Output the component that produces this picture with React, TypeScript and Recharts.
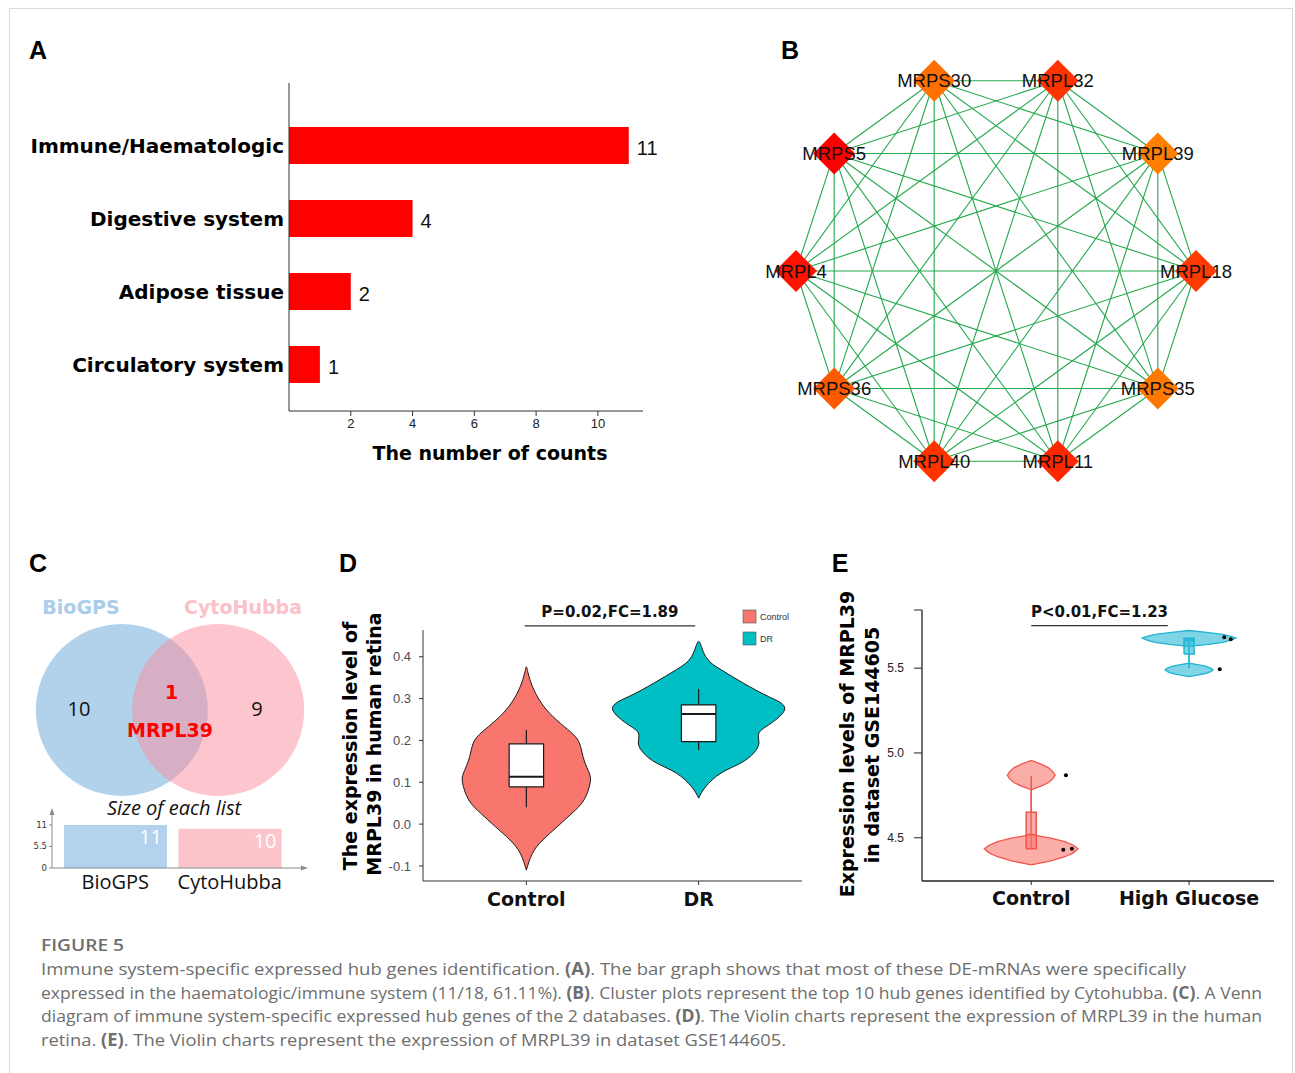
import React from "react";
import {
  BarChart,
  Bar,
  XAxis,
  YAxis,
  LabelList,
  ScatterChart,
  Scatter,
  ReferenceLine,
  ComposedChart,
  Cell,
} from "recharts";

const FONT_BOLD = "'DejaVu Sans', Verdana, sans-serif";
const FONT_ARIAL = "'Liberation Sans', Arial, sans-serif";
const FONT_OPEN = "'Open Sans', sans-serif";
const FONT_NARROW = "'Liberation Sans Narrow', 'Liberation Sans', sans-serif";

// ---- A: tissue specific expression
const tissueNames = ["Immune/Haematologic", "Digestive system", "Adipose tissue", "Circulatory system"];
const tissueCounts = [11, 4, 2, 1];
const countTicks = [2, 4, 6, 8, 10];

// ---- B: cytoHubba top 10 (circle layout order, counter-clockwise from the right)
const hubGenes = ["MRPL18", "MRPL39", "MRPL32", "MRPS30", "MRPS5", "MRPL4", "MRPS36", "MRPL40", "MRPL11", "MRPS35"];
const hubColors = ["#ff3a00", "#ff7f00", "#ff3300", "#ff7000", "#ff0000", "#ff1200", "#ff5a00", "#ff3300", "#ff2600", "#ff7800"];
const hubLinks: Record<string, string[]> = {
  MRPL18: ["MRPL39", "MRPL32", "MRPS30", "MRPS5", "MRPL4", "MRPS36", "MRPL40", "MRPL11", "MRPS35"],
  MRPL39: ["MRPL32", "MRPS30", "MRPS5", "MRPL4", "MRPS36", "MRPL40", "MRPL11", "MRPS35"],
  MRPL32: ["MRPS30", "MRPS5", "MRPL4", "MRPS36", "MRPL40", "MRPL11", "MRPS35"],
  MRPS30: ["MRPS5", "MRPL4", "MRPS36", "MRPL40", "MRPL11", "MRPS35"],
  MRPS5: ["MRPL4", "MRPS36", "MRPL40", "MRPL11", "MRPS35"],
  MRPL4: ["MRPS36", "MRPL40", "MRPL11", "MRPS35"],
  MRPS36: ["MRPL40", "MRPL11", "MRPS35"],
  MRPL40: ["MRPL11", "MRPS35"],
  MRPL11: ["MRPS35"],
};

// ---- C: venn
const vennSets = ["BioGPS", "CytoHubba"];
const vennSizes = [11, 10];
const vennShared = ["MRPL39"];
const vennCircleColors = ["#65a5d9", "#fb8b9b"];
const vennBarColors = ["#b2d2ed", "#fdc4cc"];
const sizeTicks = [0, 5.5, 11];

// ---- D: human retina
const retinaGroups = ["Control", "DR"];
const retinaColors = ["#F8766D", "#00BFC4"];
const controlRetinaLevels = [-0.11, -0.07, -0.038, -0.006, 0.026, 0.058, 0.098, 0.122, 0.153, 0.185, 0.209, 0.233, 0.265, 0.297, 0.329, 0.361, 0.376];
const controlRetinaDensity = [0, 0.07, 0.19, 0.36, 0.53, 0.67, 0.74, 0.73, 0.67, 0.63, 0.57, 0.44, 0.27, 0.15, 0.07, 0.02, 0];
const drRetinaLevels = [0.062, 0.089, 0.122, 0.146, 0.17, 0.194, 0.218, 0.241, 0.277, 0.305, 0.337, 0.369, 0.401, 0.437];
const drRetinaDensity = [0, 0.08, 0.26, 0.49, 0.64, 0.7, 0.7, 0.84, 1, 0.81, 0.52, 0.26, 0.08, 0];
const retinaLow = [0.04, 0.177];
const retinaQ1 = [0.089, 0.197];
const retinaMedian = [0.113, 0.263];
const retinaQ3 = [0.192, 0.285];
const retinaHigh = [0.225, 0.323];
const retinaTicks = [-0.1, 0, 0.1, 0.2, 0.3, 0.4];

// ---- E: GSE144605
const gseGroups = ["Control", "High Glucose"];
const gseFill = ["#F8766D", "#29b9d6"];
const gseStroke = ["#f0564c", "#22b4d2"];
const controlGseLevels = [4.34, 4.364, 4.388, 4.411, 4.435, 4.456, 4.477, 4.498, 4.519, 4.783, 4.804, 4.826, 4.847, 4.868, 4.89, 4.912, 4.934, 4.956];
const controlGseDensity = [0, 0.42, 0.72, 0.9, 1, 0.9, 0.72, 0.42, 0, 0, 0.21, 0.37, 0.46, 0.51, 0.46, 0.37, 0.21, 0];
const hgGseLevels = [5.45, 5.46, 5.47, 5.48, 5.49, 5.5, 5.51, 5.52, 5.53, 5.628, 5.64, 5.652, 5.665, 5.677, 5.688, 5.699, 5.71, 5.722];
const hgGseDensity = [0, 0.21, 0.37, 0.46, 0.51, 0.46, 0.37, 0.21, 0, 0, 0.42, 0.72, 0.9, 1, 0.9, 0.72, 0.42, 0];
const gseLow = [4.435, 5.5];
const gseQ1 = [4.435, 5.584];
const gseMedian = [4.519, 5.665];
const gseQ3 = [4.651, 5.677];
const gseHigh = [4.862, 5.677];
const controlGsePoints = [4.868, 4.429, 4.435];
const controlGseJitter = [0.22, 0.203, 0.258];
const hgGsePoints = [5.683, 5.671, 5.494];
const hgGseJitter = [0.223, 0.264, 0.194];
const gseTicks = [4.5, 5, 5.5, 5.843];

type Pt = { x: number; y: number };

const noDot = () => <g />;

function violin(center: number, levels: number[], dens: number[], half: number): Pt[] {
  const right = levels.map((v, i) => ({ x: center + dens[i] * half, y: v }));
  const left = levels
    .slice(0, -1)
    .map((v, i) => ({ x: center - dens[i] * half, y: v }))
    .reverse();
  return [...right, ...left];
}

function boxRect(c: number, half: number, lo: number, hi: number): Pt[] {
  return [
    { x: c - half, y: lo },
    { x: c + half, y: lo },
    { x: c + half, y: hi },
    { x: c - half, y: hi },
    { x: c - half, y: lo },
  ];
}

// ----------------------------------------------------------------- A
const tissueData = tissueNames.map((name, i) => ({ name, count: tissueCounts[i] }));

function PanelA() {
  return (
    <div style={{ position: "absolute", left: 0, top: 70 }}>
      <BarChart width={680} height={380} data={tissueData} layout="vertical" margin={{ top: 13, right: 37, bottom: 0, left: 0 }}>
        <XAxis
          type="number"
          domain={[0, 11.46]}
          ticks={countTicks}
          allowDataOverflow
          height={39}
          tickSize={5}
          tickMargin={3}
          interval={0}
          axisLine={{ stroke: "#333" }}
          tickLine={{ stroke: "#333" }}
          tick={{ fontSize: 13, fill: "#222", fontFamily: FONT_ARIAL }}
        />
        <YAxis
          type="category"
          dataKey="name"
          width={289}
          padding={{ top: 26, bottom: 10 }}
          tickLine={false}
          tickSize={3}
          tickMargin={2}
          interval={0}
          axisLine={{ stroke: "#333" }}
          tick={{ fontSize: 20, fontWeight: "bold", fill: "#000", fontFamily: FONT_BOLD }}
        />
        <Bar dataKey="count" fill="#ff0000" barSize={37} isAnimationActive={false}>
          <LabelList dataKey="count" position="right" offset={8} fill="#111" fontSize={20} fontFamily={FONT_ARIAL} dy={2} />
        </Bar>
      </BarChart>
    </div>
  );
}

// ----------------------------------------------------------------- B
const hubNodes = hubGenes.map((name, i) => {
  const a = (i * 2 * Math.PI) / hubGenes.length;
  return { name, x: Math.cos(a), y: Math.sin(a), color: hubColors[i] };
});
const nodeByName: Record<string, { x: number; y: number }> = Object.fromEntries(hubNodes.map((n) => [n.name, n]));
const hubEdges = Object.entries(hubLinks).flatMap(([a, list]) => list.map((b) => [a, b]));

function Diamond(props: any) {
  const { cx, cy, payload } = props;
  const h = 21;
  return <path d={`M${cx},${cy - h}L${cx + h},${cy}L${cx},${cy + h}L${cx - h},${cy}Z`} fill={payload.color} />;
}

function PanelB() {
  return (
    <div style={{ position: "absolute", left: 736, top: 31 }}>
      <ScatterChart width={520} height={480} margin={{ top: 0, right: 0, bottom: 0, left: 0 }}>
        <XAxis type="number" dataKey="x" domain={[-1.3, 1.3]} hide />
        <YAxis type="number" dataKey="y" domain={[-1.2, 1.2]} hide />
        {hubEdges.map(([a, b]) => (
          <ReferenceLine
            key={a + b}
            segment={[
              { x: nodeByName[a].x, y: nodeByName[a].y },
              { x: nodeByName[b].x, y: nodeByName[b].y },
            ]}
            stroke="#22a84c"
            strokeWidth={1.1}
            ifOverflow="visible"
          />
        ))}
        <Scatter data={hubNodes} shape={Diamond} isAnimationActive={false}>
          <LabelList dataKey="name" position="center" fill="#111" fontSize={18.5} fontFamily={FONT_ARIAL} />
        </Scatter>
      </ScatterChart>
    </div>
  );
}

// ----------------------------------------------------------------- C
const VENN_GAP = 0.56;
const vennCircles = vennSets.map((name, i) => ({ name, x: i === 0 ? -VENN_GAP : VENN_GAP, y: 0, color: vennCircleColors[i] }));

function VennCircle(props: any) {
  return <circle cx={props.cx} cy={props.cy} r={86} fill={props.payload.color} fillOpacity={0.5} />;
}

function VennC() {
  return (
    <div style={{ position: "absolute", left: 20, top: 580 }}>
      <ScatterChart width={300} height={220} margin={{ top: 0, right: 0, bottom: 0, left: 0 }}>
        <XAxis type="number" dataKey="x" domain={[-1.744, 1.744]} hide />
        <YAxis type="number" dataKey="y" domain={[-1.047, 1.512]} hide />
        <Scatter data={vennCircles} shape={VennCircle} isAnimationActive={false} />
      </ScatterChart>
    </div>
  );
}

const sizeData = vennSets.map((name, i) => ({ name, size: vennSizes[i] }));

function SizesC() {
  return (
    <div style={{ position: "absolute", left: 20, top: 805 }}>
      <BarChart width={300} height={95} data={sizeData} margin={{ top: 7, right: 15, bottom: 0, left: 0 }}>
        <XAxis
          dataKey="name"
          padding={{ left: 6, right: 18 }}
          height={32}
          tickLine={false}
          tickSize={0}
          tickMargin={7}
          interval={0}
          axisLine={{ stroke: "#8a8a8a" }}
          tick={{ fontSize: 20, fill: "#111", fontFamily: FONT_OPEN }}
        />
        <YAxis
          domain={[0, 14.3]}
          ticks={sizeTicks}
          allowDataOverflow
          width={32}
          tickSize={3}
          tickMargin={2}
          interval={0}
          axisLine={{ stroke: "#8a8a8a" }}
          tickLine={{ stroke: "#8a8a8a" }}
          tick={{ fontSize: 8.5, fill: "#333", fontFamily: FONT_BOLD }}
        />
        <Bar dataKey="size" barSize={103} isAnimationActive={false}>
          {sizeData.map((d, i) => (
            <Cell key={d.name} fill={vennBarColors[i]} />
          ))}
          <LabelList dataKey="size" position="insideTopRight" fill="#fff" fontSize={20} fontFamily={FONT_OPEN} />
        </Bar>
      </BarChart>
    </div>
  );
}

// ----------------------------------------------------------------- D
const RETINA_HALF = 0.5;
const RETINA_BOX = 0.1;
const retinaViolins = [
  violin(1, controlRetinaLevels, controlRetinaDensity, RETINA_HALF),
  violin(2, drRetinaLevels, drRetinaDensity, RETINA_HALF),
];

function PanelD() {
  return (
    <div style={{ position: "absolute", left: 380, top: 600 }}>
      <ComposedChart width={440} height={310} margin={{ top: 30, right: 18, bottom: 0, left: 0 }}>
        <XAxis
          type="number"
          dataKey="x"
          domain={[0.4, 2.6]}
          ticks={[1, 2]}
          tickFormatter={(v: number) => retinaGroups[v - 1]}
          allowDataOverflow
          height={29}
          tickSize={4}
          tickMargin={8}
          interval={0}
          axisLine={{ stroke: "#333" }}
          tickLine={{ stroke: "#333" }}
          tick={{ fontSize: 19, fontWeight: "bold", fill: "#111", fontFamily: FONT_BOLD }}
        />
        <YAxis
          type="number"
          dataKey="y"
          domain={[-0.136, 0.464]}
          ticks={retinaTicks}
          tickFormatter={(v: number) => v.toFixed(1)}
          allowDataOverflow
          width={43}
          tickSize={4}
          tickMargin={8}
          interval={0}
          axisLine={{ stroke: "#333" }}
          tickLine={{ stroke: "#333" }}
          tick={{ fontSize: 13, fill: "#4d4d4d", fontFamily: FONT_ARIAL }}
        />
        {retinaViolins.map((pts, i) => (
          <Scatter
            key={"v" + i}
            data={pts}
            shape={noDot}
            line={{ fill: retinaColors[i], stroke: "#1a1a1a", strokeWidth: 1 }}
            lineJointType="natural"
            isAnimationActive={false}
          />
        ))}
        {retinaGroups.map((g, i) => (
          <Scatter
            key={"wl" + g}
            data={[
              { x: i + 1, y: retinaLow[i] },
              { x: i + 1, y: retinaHigh[i] },
            ]}
            shape={noDot}
            line={{ stroke: "#1a1a1a", strokeWidth: 1.2 }}
            isAnimationActive={false}
          />
        ))}
        {retinaGroups.map((g, i) => (
          <Scatter
            key={"b" + g}
            data={boxRect(i + 1, RETINA_BOX, retinaQ1[i], retinaQ3[i])}
            shape={noDot}
            line={{ fill: "#fff", stroke: "#1a1a1a", strokeWidth: 1.2 }}
            isAnimationActive={false}
          />
        ))}
        {retinaGroups.map((g, i) => (
          <Scatter
            key={"m" + g}
            data={[
              { x: i + 1 - RETINA_BOX, y: retinaMedian[i] },
              { x: i + 1 + RETINA_BOX, y: retinaMedian[i] },
            ]}
            shape={noDot}
            line={{ stroke: "#1a1a1a", strokeWidth: 2 }}
            isAnimationActive={false}
          />
        ))}
        <ReferenceLine
          segment={[
            { x: 0.99, y: 0.474 },
            { x: 1.98, y: 0.474 },
          ]}
          stroke="#333"
          strokeWidth={1.2}
          ifOverflow="visible"
          label={{ value: "P=0.02,FC=1.89", position: "top", offset: 9, fontSize: 15, fontWeight: "bold", fill: "#111", fontFamily: FONT_BOLD }}
        />
      </ComposedChart>
    </div>
  );
}

// ----------------------------------------------------------------- E
const GSE_HALF = 0.297;
const GSE_BOX = 0.032;
const gseViolins = [
  violin(1, controlGseLevels, controlGseDensity, GSE_HALF),
  violin(2, hgGseLevels, hgGseDensity, GSE_HALF),
];
const gseDots = [
  ...controlGsePoints.map((y, i) => ({ x: 1 + controlGseJitter[i], y })),
  ...hgGsePoints.map((y, i) => ({ x: 2 + hgGseJitter[i], y })),
];

function Dot(props: any) {
  return <circle cx={props.cx} cy={props.cy} r={2} fill="#000" />;
}

function PanelE() {
  return (
    <div style={{ position: "absolute", left: 880, top: 600 }}>
      <ComposedChart width={410} height={310} margin={{ top: 10, right: 16, bottom: 0, left: 0 }}>
        <XAxis
          type="number"
          dataKey="x"
          domain={[0.308, 2.538]}
          ticks={[1, 2]}
          tickFormatter={(v: number) => gseGroups[v - 1]}
          allowDataOverflow
          height={29}
          tickSize={4}
          tickMargin={7}
          interval={0}
          axisLine={{ stroke: "#222", strokeWidth: 1.3 }}
          tickLine={{ stroke: "#222" }}
          tick={{ fontSize: 19, fontWeight: "bold", fill: "#111", fontFamily: FONT_BOLD }}
        />
        <YAxis
          type="number"
          dataKey="y"
          domain={[4.245, 5.843]}
          ticks={gseTicks}
          tickFormatter={(v: number) => (v > 5.6 ? "" : v.toFixed(1))}
          allowDataOverflow
          width={42}
          tickSize={8}
          tickMargin={10}
          interval={0}
          axisLine={{ stroke: "#222", strokeWidth: 1.3 }}
          tickLine={{ stroke: "#222" }}
          tick={{ fontSize: 12, fill: "#222", fontFamily: FONT_NARROW }}
        />
        {gseViolins.map((pts, i) => (
          <Scatter
            key={"v" + i}
            data={pts}
            shape={noDot}
            line={{ fill: gseFill[i], fillOpacity: 0.6, stroke: gseStroke[i], strokeWidth: 1.3 }}
            lineJointType="linear"
            isAnimationActive={false}
          />
        ))}
        {gseGroups.map((g, i) => (
          <Scatter
            key={"wl" + g}
            data={[
              { x: i + 1, y: gseLow[i] },
              { x: i + 1, y: gseHigh[i] },
            ]}
            shape={noDot}
            line={{ stroke: gseStroke[i], strokeWidth: 1.5 }}
            isAnimationActive={false}
          />
        ))}
        {gseGroups.map((g, i) => (
          <Scatter
            key={"b" + g}
            data={boxRect(i + 1, GSE_BOX, gseQ1[i], gseQ3[i])}
            shape={noDot}
            line={{ fill: gseFill[i], fillOpacity: 0.6, stroke: gseStroke[i], strokeWidth: 1.5 }}
            isAnimationActive={false}
          />
        ))}
        {gseGroups.map((g, i) => (
          <Scatter
            key={"m" + g}
            data={[
              { x: i + 1 - GSE_BOX, y: gseMedian[i] },
              { x: i + 1 + GSE_BOX, y: gseMedian[i] },
            ]}
            shape={noDot}
            line={{ stroke: gseStroke[i], strokeWidth: 1.5 }}
            isAnimationActive={false}
          />
        ))}
        <Scatter data={gseDots} shape={Dot} isAnimationActive={false} />
        <ReferenceLine
          segment={[
            { x: 1, y: 5.751 },
            { x: 1.865, y: 5.751 },
          ]}
          stroke="#333"
          strokeWidth={1.2}
          ifOverflow="visible"
          label={{ value: "P<0.01,FC=1.23", position: "top", offset: 9, fontSize: 15, fontWeight: "bold", fill: "#111", fontFamily: FONT_BOLD }}
        />
      </ComposedChart>
    </div>
  );
}

// ----------------------------------------------------------------- texts
const captionLines: [string, boolean][][] = [
  [
    ["Immune system-specific expressed hub genes identification. ", false],
    ["(A)", true],
    [". The bar graph shows that most of these DE-mRNAs were specifically", false],
  ],
  [
    ["expressed in the haematologic/immune system (11/18, 61.11%). ", false],
    ["(B)", true],
    [". Cluster plots represent the top 10 hub genes identified by Cytohubba. ", false],
    ["(C)", true],
    [". A Venn", false],
  ],
  [
    ["diagram of immune system-specific expressed hub genes of the 2 databases. ", false],
    ["(D)", true],
    [". The Violin charts represent the expression of MRPL39 in the human", false],
  ],
  [
    ["retina. ", false],
    ["(E)", true],
    [". The Violin charts represent the expression of MRPL39 in dataset GSE144605.", false],
  ],
];
const captionWidths = [1145, 1221, 1221, 745];
const captionBaselines = [975, 999, 1022, 1046];

const panelLetters: [string, number, number][] = [
  ["A", 38, 59],
  ["B", 790, 59],
  ["C", 38, 572],
  ["D", 348, 572],
  ["E", 840, 572],
];

function Overlay() {
  return (
    <svg width={1295} height={1073} style={{ position: "absolute", left: 0, top: 0, pointerEvents: "none" }}>
      <rect x={9.5} y={8.5} width={1283} height={1080} fill="none" stroke="#d9d9d9" />
      {panelLetters.map(([t, x, y]) => (
        <text key={t} x={x} y={y} textAnchor="middle" fontFamily={FONT_ARIAL} fontWeight="bold" fontSize={25} fill="#000">
          {t}
        </text>
      ))}

      <text x={490} y={460} textAnchor="middle" fontFamily={FONT_BOLD} fontWeight="bold" fontSize={19} fill="#000">
        The number of counts
      </text>

      {/* venn labels */}
      <text x={81} y={614} textAnchor="middle" fontFamily={FONT_BOLD} fontWeight="bold" fontSize={19} fill="#a9cdea">
        {vennSets[0]}
      </text>
      <text x={243} y={614} textAnchor="middle" fontFamily={FONT_BOLD} fontWeight="bold" fontSize={19} fill="#fcc0c8">
        {vennSets[1]}
      </text>
      <text x={79} y={716} textAnchor="middle" fontFamily={FONT_OPEN} fontSize={20} fill="#111">
        {vennSizes[0] - vennShared.length}
      </text>
      <text x={257} y={716} textAnchor="middle" fontFamily={FONT_OPEN} fontSize={20} fill="#111">
        {vennSizes[1] - vennShared.length}
      </text>
      <text x={171.5} y={699} textAnchor="middle" fontFamily={FONT_BOLD} fontWeight="bold" fontSize={19} fill="#ff0000">
        {vennShared.length}
      </text>
      <text x={170} y={737} textAnchor="middle" fontFamily={FONT_BOLD} fontWeight="bold" fontSize={19} fill="#ff0000">
        {vennShared[0]}
      </text>
      <text x={174} y={815} textAnchor="middle" fontFamily={FONT_OPEN} fontStyle="italic" fontSize={20} fill="#111">
        Size of each list
      </text>
      <polygon points="52,808 49.5,815 54.5,815" fill="#8a8a8a" />
      <polygon points="308,868 301,865.5 301,870.5" fill="#8a8a8a" />

      {/* D titles + legend */}
      <text transform="translate(357,746) rotate(-90)" textAnchor="middle" fontFamily={FONT_BOLD} fontWeight="bold" fontSize={19} fill="#000">
        The expression level of
      </text>
      <text transform="translate(381,744) rotate(-90)" textAnchor="middle" fontFamily={FONT_BOLD} fontWeight="bold" fontSize={19} fill="#000">
        MRPL39 in human retina
      </text>
      {retinaGroups.map((g, i) => (
        <g key={g}>
          <rect x={743} y={610 + i * 22} width={13} height={13} fill={retinaColors[i]} stroke="#555" strokeWidth={0.6} />
          <text x={760} y={620 + i * 22} fontFamily={FONT_ARIAL} fontSize={9} fill="#333">
            {g}
          </text>
        </g>
      ))}

      {/* E titles */}
      <text transform="translate(854,744) rotate(-90)" textAnchor="middle" fontFamily={FONT_BOLD} fontWeight="bold" fontSize={19} fill="#000">
        Expression levels of MRPL39
      </text>
      <text transform="translate(879,745) rotate(-90)" textAnchor="middle" fontFamily={FONT_BOLD} fontWeight="bold" fontSize={19} fill="#000">
        in dataset GSE144605
      </text>

      {/* caption */}
      <text x={41} y={951} fontFamily={FONT_OPEN} fontWeight={600} fontSize={17} fill="#6e6e6e" textLength={83} lengthAdjust="spacingAndGlyphs">
        FIGURE 5
      </text>
      {captionLines.map((parts, li) => (
        <text
          key={li}
          x={41}
          y={captionBaselines[li]}
          fontFamily={FONT_OPEN}
          fontSize={17}
          fill="#6e6e6e"
          textLength={captionWidths[li]}
          lengthAdjust="spacingAndGlyphs"
        >
          {parts.map(([t, b], pi) => (
            <tspan key={pi} fontWeight={b ? "bold" : "normal"}>
              {t}
            </tspan>
          ))}
        </text>
      ))}
    </svg>
  );
}

export default function App() {
  return (
    <div
      style={{
        position: "absolute",
        left: 0,
        top: 0,
        width: 1295,
        height: 1073,
        background: "#fff",
        fontFamily: FONT_ARIAL,
        overflow: "hidden",
      }}
    >
      <PanelA />
      <PanelB />
      <VennC />
      <SizesC />
      <PanelD />
      <PanelE />
      <Overlay />
    </div>
  );
}
